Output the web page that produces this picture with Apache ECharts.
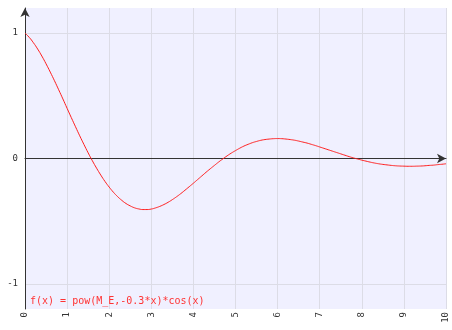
<!DOCTYPE html>
<html><head><meta charset="utf-8">
<script src="https://cdn.jsdelivr.net/npm/echarts@6/dist/echarts.min.js"></script>
<style>html,body{margin:0;padding:0;background:#fff}#c{width:452px;height:330px}</style>
</head><body><div id="c"></div>
<script>
const xValues = [0,0.1,0.2,0.3,0.4,0.5,0.6,0.7,0.8,0.9,1,1.1,1.2,1.3,1.4,1.5,1.6,1.7,1.8,1.9,2,2.1,2.2,2.3,2.4,2.5,2.6,2.7,2.8,2.9,3,3.1,3.2,3.3,3.4,3.5,3.6,3.7,3.8,3.9,4,4.1,4.2,4.3,4.4,4.5,4.6,4.7,4.8,4.9,5,5.1,5.2,5.3,5.4,5.5,5.6,5.7,5.8,5.9,6,6.1,6.2,6.3,6.4,6.5,6.6,6.7,6.8,6.9,7,7.1,7.2,7.3,7.4,7.5,7.6,7.7,7.8,7.9,8,8.1,8.2,8.3,8.4,8.5,8.6,8.7,8.8,8.9,9,9.1,9.2,9.3,9.4,9.5,9.6,9.7,9.8,9.9,10];
const yValues = [1.000,0.966,0.923,0.873,0.817,0.755,0.689,0.620,0.548,0.475,0.400,0.326,0.253,0.181,0.112,0.045,-0.018,-0.077,-0.132,-0.183,-0.228,-0.269,-0.304,-0.334,-0.359,-0.378,-0.393,-0.402,-0.407,-0.407,-0.403,-0.394,-0.382,-0.367,-0.349,-0.328,-0.305,-0.280,-0.253,-0.225,-0.197,-0.168,-0.139,-0.110,-0.082,-0.055,-0.028,-0.003,0.021,0.043,0.063,0.082,0.099,0.113,0.126,0.136,0.145,0.151,0.155,0.158,0.159,0.158,0.155,0.151,0.146,0.139,0.131,0.123,0.113,0.103,0.092,0.081,0.070,0.059,0.048,0.037,0.026,0.015,0.005,-0.004,-0.013,-0.021,-0.029,-0.036,-0.042,-0.047,-0.051,-0.055,-0.058,-0.060,-0.061,-0.062,-0.062,-0.061,-0.060,-0.058,-0.055,-0.053,-0.049,-0.046,-0.042];
const yTicks = [-1, 0, 1];
const seriesName = 'f(x) = pow(M_E,-0.3*x)*cos(x)';
const xName = 't';

const chart = echarts.init(document.getElementById('c'), null, {renderer: 'canvas'});
const mono = 'DejaVu Sans Mono';
chart.setOption({
  animation: false,
  grid: {left: 25, right: 6, top: 8, bottom: 21, show: true, backgroundColor: '#f0f0ff', borderWidth: 0, outerBoundsMode: 'none', containLabel: false},
  legend: {
    left: 25, top: 294, icon: 'none', itemWidth: 0, itemGap: 0, padding: 0,
    textStyle: {color: '#ff3333', fontFamily: mono, fontSize: 10},
    data: [seriesName]
  },
  xAxis: [{
    type: 'value', min: 0, max: 10, interval: 1, position: 'bottom',
    name: xName, nameLocation: 'middle', nameGap: 16,
    nameTextStyle: {fontFamily: mono, fontSize: 8, color: '#333'},
    axisLine: {show: false, onZero: false},
    axisTick: {show: false},
    axisLabel: {rotate: 90, fontFamily: mono, fontSize: 9, color: '#333', margin: 3},
    splitLine: {show: true, lineStyle: {color: '#dcdce6', width: 1}}
  }, {
    type: 'value', min: 0, max: 10, interval: 1, position: 'bottom',
    axisLine: {show: true, onZero: true, onZeroAxisIndex: 0, symbol: ['none', 'arrow'], symbolSize: [7, 9], lineStyle: {color: '#333', width: 1}},
    axisTick: {show: false}, axisLabel: {show: false}, splitLine: {show: false}
  }],
  yAxis: {
    type: 'value', min: -1.2, max: 1.2,
    axisLine: {show: true, onZero: false, symbol: ['none', 'arrow'], symbolSize: [7, 9], lineStyle: {color: '#333', width: 1}},
    axisTick: {show: false, customValues: yTicks},
    axisLabel: {customValues: yTicks, fontFamily: mono, fontSize: 9, color: '#333', margin: 7},
    splitLine: {show: true, lineStyle: {color: '#dcdce6', width: 1}}
  },
  series: [{
    name: seriesName, type: 'line', smooth: true, showSymbol: false,
    xAxisIndex: 0,
    lineStyle: {color: '#ff2020', width: 1}, itemStyle: {color: '#ff2020'},
    data: xValues.map((x, i) => [x, yValues[i]])
  }]
});
</script></body></html>
